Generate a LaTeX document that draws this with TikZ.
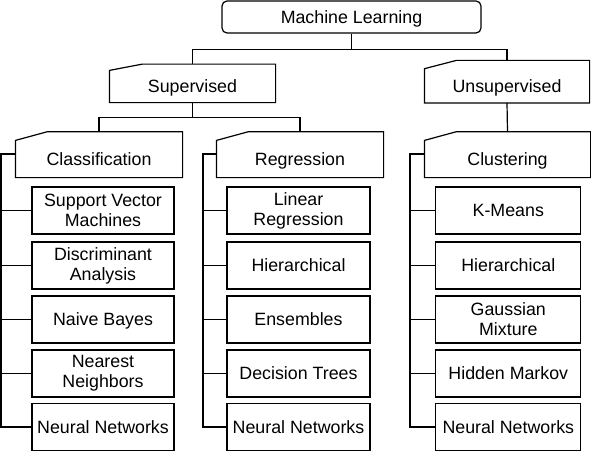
\documentclass[tikz,border=0pt]{standalone}
\usepackage{fontspec}
\setmainfont{Liberation Sans}
\newcommand\mycatshape[3]{\draw (#1.north west) -- ([shift={(#3pt,#2pt)}]#1.north west) -- ([yshift=#2pt]#1.north east) -- (#1.south east) -- (#1.south west) -- cycle;}
\begin{document}
\begin{tikzpicture}[x=1pt,y=-1pt, line width=1.2pt,
  every node/.style={font=\fontsize{17.8}{20}\selectfont, inner sep=0pt, align=center},
  one/.style={text height=16.4pt, text depth=3.6pt},
  leaf/.style={draw, minimum height=47pt},
  root/.style={draw, rounded corners=5pt, minimum width=259pt, minimum height=32pt}]
\useasboundingbox (0,0) rectangle (591,452);
\node[root,one] (ml) at (351.5,17) {Machine Learning};
\node[one, minimum width=165pt, minimum height=31pt] (sup) at (192.5,86.5) {Supervised};
\node[one, minimum width=164pt, minimum height=33pt] (uns) at (507,85.8) {Unsupervised};
\node[one, minimum width=166pt, minimum height=36pt] (cls) at (99,159) {Classification};
\node[one, minimum width=166pt, minimum height=36pt] (reg) at (300,159) {Regression};
\node[one, minimum width=165pt, minimum height=36pt] (clu) at (507.5,159) {Clustering};
\mycatshape{sup}{6.3}{33}
\mycatshape{uns}{8.3}{32}
\mycatshape{cls}{8.7}{32}
\mycatshape{reg}{8.7}{32}
\mycatshape{clu}{8.7}{32}
% leaves
\begin{scope}[every node/.append style={leaf}]
\node[minimum width=142pt] (c1) at (103,210.5) {Support Vector\\Machines};
\node[minimum width=142pt] (c2) at (103,265.5) {Discriminant\\Analysis};
\node[one, minimum width=142pt] (c3) at (103,319.5) {Naive Bayes};
\node[minimum width=142pt] (c4) at (103,373.5) {Nearest\\Neighbors};
\node[one, minimum width=142pt] (c5) at (103,427) {Neural Networks};
\node[minimum width=143pt] (r1) at (298.5,210.5) {Linear\\Regression};
\node[one, minimum width=143pt] (r2) at (298.5,265.5) {Hierarchical};
\node[one, minimum width=143pt] (r3) at (298.5,319.5) {Ensembles};
\node[one, minimum width=143pt] (r4) at (298.5,373.5) {Decision Trees};
\node[one, minimum width=143pt] (r5) at (298.5,427) {Neural Networks};
\node[one, minimum width=145pt] (u1) at (508.3,210.5) {K-Means};
\node[one, minimum width=145pt] (u2) at (508.3,265.5) {Hierarchical};
\node[minimum width=145pt] (u3) at (508.3,319.5) {Gaussian\\Mixture};
\node[one, minimum width=145pt] (u4) at (508.3,373.5) {Hidden Markov};
\node[one, minimum width=145pt] (u5) at (508.3,427) {Neural Networks};
\end{scope}
% connectors
\draw (ml.south) -- ++(0,16) -| ([yshift=6.3pt]sup.north);
\draw (ml.south) -- ++(0,16) -| ([yshift=8.3pt]uns.north);
\draw (sup.south) -- ++(0,15) -| ([yshift=8.7pt]cls.north);
\draw (sup.south) -- ++(0,15) -| ([yshift=8.7pt]reg.north);
\draw (uns.south) -- ([yshift=8.7pt]clu.north);
\coordinate (cs) at (1,0);
\coordinate (rs) at (203,0);
\coordinate (us) at (410,0);
\draw ([yshift=5pt]cls.west) -| (cs |- c5.west) -- (c5.west);
\draw ([yshift=5pt]reg.west) -| (rs |- r5.west) -- (r5.west);
\draw ([yshift=5pt]clu.west) -| (us |- u5.west) -- (u5.west);
\foreach \n in {c1,c2,c3,c4} \draw (\n.west) -- (cs |- \n.west);
\foreach \n in {r1,r2,r3,r4} \draw (\n.west) -- (rs |- \n.west);
\foreach \n in {u1,u2,u3,u4} \draw (\n.west) -- (us |- \n.west);
\end{tikzpicture}
\end{document}
